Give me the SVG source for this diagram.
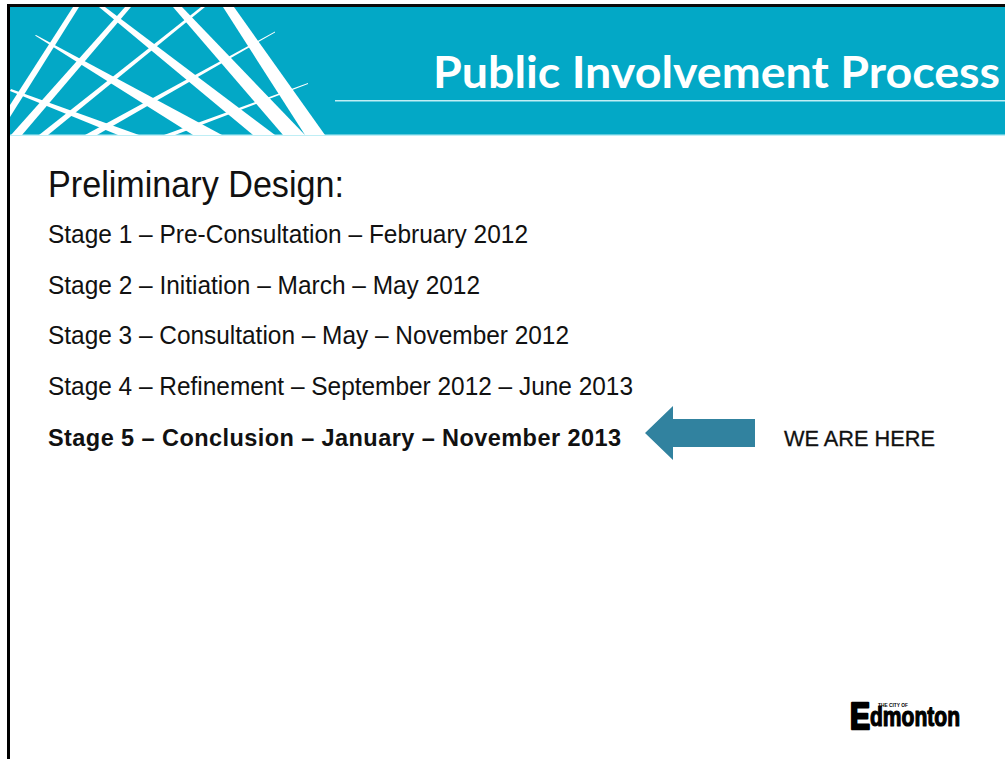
<svg xmlns="http://www.w3.org/2000/svg" width="1005" height="759" viewBox="0 0 1005 759">
<style>
.b{font-family:"Liberation Sans",Arial,sans-serif;fill:#111}
.s{font-size:25px}
.r{fill:#fff}
.l{font-family:"Liberation Sans",Arial,sans-serif;font-weight:700;fill:#000;stroke:#000;stroke-linejoin:round}
</style>
<rect width="1005" height="759" fill="#fff"/>
<rect x="7" y="4" width="998" height="3.5" fill="#0a0a0a"/>
<rect x="7" y="4" width="3" height="755" fill="#000"/>
<g id="banner">
<rect x="10" y="7" width="995" height="128" fill="#03a8c6"/>
<rect x="10" y="134.5" width="995" height="1.5" fill="#bfeef5"/>
<path class="r" d="M73 7H79L10 117V105Z"/>
<path class="r" d="M125 7H131L22 135H11Z"/>
<path class="r" d="M201 7H205L48 135H39Z"/>
<path class="r" d="M275 31.500V32.500L97 135H85Z"/>
<path class="r" d="M308 83V84L175 135H164Z"/>
<path class="r" d="M35 35.500L36 35L222 135H193Z"/>
<path class="r" d="M10 91L11 89L139 135H118Z"/>
<path class="r" d="M99 7H105L275 135H253Z"/>
<path class="r" d="M173 7H182L305 135H283Z"/>
<path class="r" d="M223 7H234L325 135H305Z"/>
<rect x="335" y="100" width="670" height="1.5" fill="#bfeef5"/>
<text x="433" y="88" font-family="Lato,sans-serif" font-weight="700" font-size="44" fill="#fff" textLength="567" lengthAdjust="spacingAndGlyphs">Public Involvement Process</text>
</g>
<g id="content">
<text class="b" x="48" y="197" font-size="36" textLength="296" lengthAdjust="spacingAndGlyphs">Preliminary Design:</text>
<text class="b s" x="48" y="243" textLength="480" lengthAdjust="spacingAndGlyphs">Stage 1 – Pre-Consultation – February 2012</text>
<text class="b s" x="48" y="294" textLength="432" lengthAdjust="spacingAndGlyphs">Stage 2 – Initiation – March – May 2012</text>
<text class="b s" x="48" y="344" textLength="521" lengthAdjust="spacingAndGlyphs">Stage 3 – Consultation – May – November 2012</text>
<text class="b s" x="48" y="395" textLength="585" lengthAdjust="spacingAndGlyphs">Stage 4 – Refinement – September 2012 – June 2013</text>
<text class="b" x="48" y="446" font-size="23.500" font-weight="700" textLength="573" lengthAdjust="spacing">Stage 5 – Conclusion – January – November 2013</text>
</g>
<g id="arrow">
<path d="M645 433L673 406V419H755V447H673V460Z" fill="#31829f"/>
</g>
<g id="here">
<text class="b" x="784" y="446" font-size="22.500" stroke="#111" stroke-width=".3" textLength="151" lengthAdjust="spacingAndGlyphs">WE ARE HERE</text>
</g>
<g id="logo">
<text class="l" x="850" y="729" font-size="36" stroke-width="2.500" textLength="20" lengthAdjust="spacingAndGlyphs">E</text>
<text class="l" x="870" y="726" font-size="27" stroke-width="1.200" textLength="90" lengthAdjust="spacingAndGlyphs">dmonton</text>
<text x="878" y="707" font-family="Liberation Sans,sans-serif" font-weight="700" font-size="4.500" fill="#000" textLength="30" lengthAdjust="spacingAndGlyphs">THE CITY OF</text>
</g>
</svg>
